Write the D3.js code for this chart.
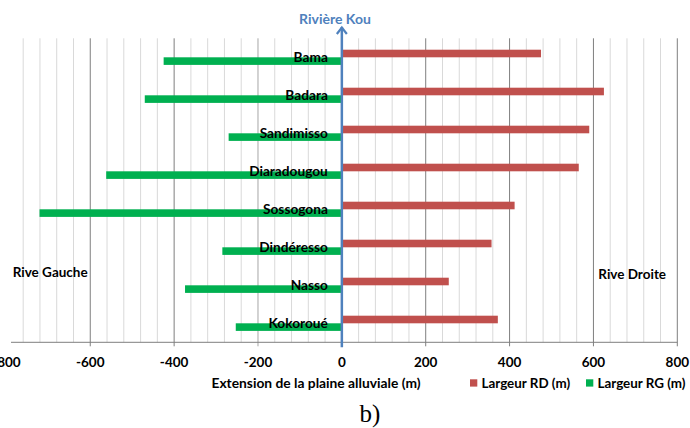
<!DOCTYPE html>
<html><head><meta charset="utf-8">
<script src="https://cdn.jsdelivr.net/npm/d3@7"></script>
<style>body{margin:0;background:#fff}svg{display:block}text{font-family:Lato,"Open Sans",sans-serif;font-weight:bold}</style>
</head><body><svg id="c" width="690" height="428"></svg>
<script>
const categories = ["Bama","Badara","Sandimisso","Diaradougou","Sossogona","Dindéresso","Nasso","Kokoroué"];
const largeurRD = [475, 625, 590, 565, 412, 357, 255, 372];
const largeurRG = [425, 470, 270, 562, 721, 285, 374, 253];
const tickValues = [-800,-600,-400,-200,0,200,400,600,800];
const seriesNames = ["Largeur RD (m)","Largeur RG (m)"];
const colors = ["#c0504d","#00b050"];

const svg = d3.select("#c");
const x = d3.scaleLinear().domain([-800,800]).range([6.4,677.3]);
const y = d3.scaleBand().domain(categories).range([38.3,342.3]).paddingInner(0.6).paddingOuter(0.3);
const sub = d3.scaleBand().domain(["RD","RG"]).range([0,y.bandwidth()]);
const plotTop = 38.3, plotBottom = 342.3;

// gridlines
const minor = d3.range(-760, 801, 40).filter(v => v % 200 !== 0);
svg.append("g").selectAll("line").data(minor).join("line")
  .attr("x1",d=>x(d)).attr("x2",d=>x(d)).attr("y1",plotTop).attr("y2",plotBottom)
  .attr("stroke","#d9d9d9").attr("stroke-width",1);
const major = [-600,-400,-200,200,400,600,800];
svg.append("g").selectAll("line").data(major).join("line")
  .attr("x1",d=>x(d)).attr("x2",d=>x(d)).attr("y1",plotTop).attr("y2",plotBottom+4)
  .attr("stroke",d=> d===-200 ? "#a6a6a6" : "#7f7f7f").attr("stroke-width",1);

// bottom axis line
svg.append("line").attr("x1",11).attr("x2",x(800)).attr("y1",plotBottom).attr("y2",plotBottom)
  .attr("stroke","#7f7f7f").attr("stroke-width",1);

// bars
const rows = categories.map((c,i)=>({c, rd:largeurRD[i], rg:largeurRG[i]}));
svg.append("g").selectAll("rect").data(rows).join("rect")
  .attr("x",x(0)).attr("y",d=>y(d.c)+sub("RD"))
  .attr("width",d=>x(d.rd)-x(0)).attr("height",sub.bandwidth()).attr("fill",colors[0]);
svg.append("g").selectAll("rect").data(rows).join("rect")
  .attr("x",d=>x(-d.rg)).attr("y",d=>y(d.c)+sub("RG"))
  .attr("width",d=>x(0)-x(-d.rg)).attr("height",sub.bandwidth()).attr("fill",colors[1]);

// category labels
svg.append("g").selectAll("text").data(categories).join("text")
  .attr("x",x(0)-14).attr("y",d=>y(d)+y.bandwidth()/2).attr("dy","0.35em")
  .attr("text-anchor","end").attr("font-size",13.7).attr("fill","#000").text(d=>d);

// blue river axis with arrow
const blue = "#4f81bd";
svg.append("line").attr("x1",x(0)).attr("x2",x(0)).attr("y1",27).attr("y2",plotBottom+5)
  .attr("stroke",blue).attr("stroke-width",2.5);
svg.append("path").attr("d",`M${x(0)-5},${34} L${x(0)},${27.5} L${x(0)+5},${34}`)
  .attr("fill","none").attr("stroke",blue).attr("stroke-width",2.2);
svg.append("text").attr("x",335).attr("y",19).attr("dy","0.35em").attr("text-anchor","middle")
  .attr("font-size",14).attr("fill",blue).text("Rivière Kou");

// tick labels
svg.append("g").selectAll("text").data(tickValues).join("text")
  .attr("x",d=>x(d)).attr("y",362).attr("dy","0.35em").attr("text-anchor","middle")
  .attr("font-size",13.5).attr("fill","#000").text(d=>d);

// axis title
svg.append("text").attr("x",316).attr("y",383).attr("dy","0.35em").attr("text-anchor","middle")
  .attr("font-size",13.8).attr("fill","#000").text("Extension de la plaine alluviale (m)");

// legend
const legX = [470, 586];
seriesNames.forEach((n,i)=>{
  svg.append("rect").attr("x",legX[i]).attr("y",379.3).attr("width",7.3).attr("height",7.3).attr("fill",colors[i]);
  svg.append("text").attr("x",legX[i]+11.5).attr("y",383).attr("dy","0.35em")
    .attr("font-size",13.4).attr("fill","#000").text(n);
});

// side labels
svg.append("text").attr("x",12.7).attr("y",272.3).attr("dy","0.35em").attr("font-size",13.5).attr("fill","#000").text("Rive Gauche");
svg.append("text").attr("x",598.3).attr("y",274.3).attr("dy","0.35em").attr("font-size",13.5).attr("fill","#000").text("Rive Droite");

// panel label
svg.append("text").attr("x",370).attr("y",421.5).attr("text-anchor","middle")
  .style("font-family","'Liberation Serif','DejaVu Serif',serif").style("font-weight","normal")
  .attr("font-size",25).attr("fill","#000").text("b)");
</script></body></html>
